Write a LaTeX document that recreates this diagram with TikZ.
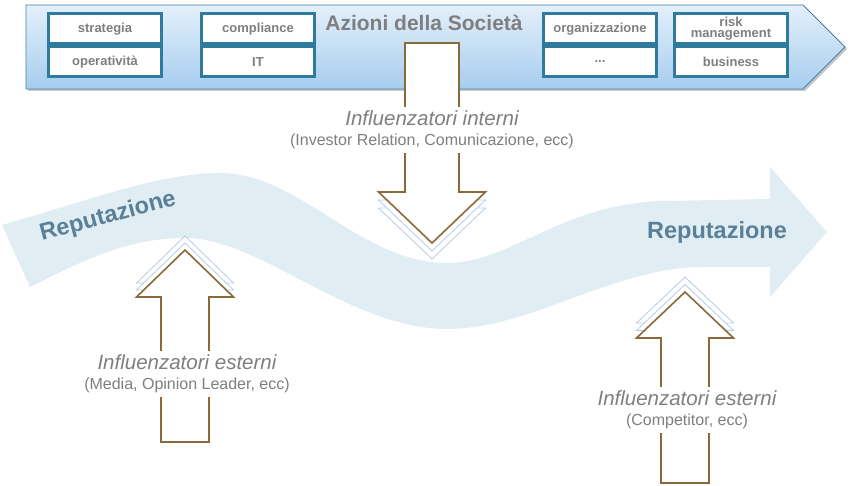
\documentclass[tikz,border=0pt]{standalone}
\usepackage{fontspec}
\setmainfont{Liberation Sans}
\usetikzlibrary{positioning}

\definecolor{boxblue}{HTML}{2F7B9D}
\definecolor{bannertop}{HTML}{E4F0FB}
\definecolor{bannerbot}{HTML}{A6CDEE}
\definecolor{bannerline}{HTML}{3F82A6}
\definecolor{txtgrey}{HTML}{7F7F7F}
\definecolor{arrbrown}{HTML}{8A6A3A}
\definecolor{ghostblue}{HTML}{B7CCE6}
\definecolor{bandblue}{HTML}{E0EEF4}
\definecolor{repblue}{HTML}{5A7F96}

% block arrow: centre x, shaft half width, head half width, foot y, head base y, tip y
\newcommand{\blockarrow}[6]{(#1-#2,#4) -- (#1-#2,#5) -- (#1-#3,#5) -- (#1,#6)
  -- (#1+#3,#5) -- (#1+#2,#5) -- (#1+#2,#4) -- cycle}

\begin{document}
\begin{tikzpicture} % coordinates are pixels of the slide, y going down
    [x=1pt, y=-1pt,
      box/.style={draw=boxblue, line width=3pt, fill=white, minimum width=113pt,
        minimum height=30pt, inner sep=0pt, align=center, text=txtgrey,
        font=\fontsize{13}{11}\selectfont\bfseries},
      ghost/.style={draw=ghostblue, line width=0.8pt, fill=white},
      fat/.style={draw=arrbrown, line width=1.6pt, fill=white},
      infl/.style={fill=white, inner sep=4pt, align=center, text=txtgrey,
        font=\fontsize{16}{20}\selectfont},
      rep/.style={text=repblue, font=\fontsize{23.5}{24}\selectfont\bfseries}]
    \useasboundingbox (0,0) rectangle (851,486);

    % the wavy reputation arrow
    \fill[bandblue] (2,225) .. controls (90,200) and (160,173) .. (220,173)
      .. controls (300,173) and (360,263) .. (447,263)
      .. controls (510,263) and (560,205) .. (660,201)
      -- (770,199) -- (770,167) -- (827,232) -- (770,297) -- (770,267) -- (700,267)
      .. controls (610,269) and (530,329) .. (447,329)
      .. controls (350,329) and (260,238) .. (185,238)
      .. controls (120,238) and (70,268) .. (30,287) -- cycle;

    % banner with the actions
    \fill[black!22] (28,7) -- (805,7) -- (847,49) -- (805,91) -- (28,91) -- cycle;
    \shadedraw[top color=bannertop, bottom color=bannerbot, draw=bannerline, line width=0.8pt]
      (26,5) -- (803,5) -- (845,47) -- (803,89) -- (26,89) -- cycle;
    \node[box] (strat) at (105,29) {strategia};
    \node[box, below=0pt of strat] (oper) {operatività};
    \node[box, right=37pt of strat] (compl) {compliance};
    \node[box, below=0pt of compl] (it) {IT};
    \node[box] (org) at (600,29) {organizzazione};
    \node[box, below=0pt of org] (dots) {...};
    \node[box, right=15pt of org] (risk) {risk\\management};
    \node[box, below=0pt of risk] (busi) {business};
    \node[text=txtgrey, font=\fontsize{21}{21}\selectfont\bfseries] (title) at (424,23) {Azioni della Società};

    % influencers, each with two ghost copies behind
    \foreach \d in {16,8}
      \draw[ghost, shift={(0,\d)}] \blockarrow{432}{27}{53.5}{43}{192}{243};
    \draw[fat] \blockarrow{432}{27}{53.5}{43}{192}{243};
    \foreach \d in {14,7}
      \draw[ghost, shift={(0,-\d)}] \blockarrow{185}{24}{48.5}{442}{297}{250};
    \draw[fat] \blockarrow{185}{24}{48.5}{442}{297}{250};
    \foreach \d in {15,7.5}
      \draw[ghost, shift={(0,-\d)}] \blockarrow{685}{24}{48.5}{483}{338}{292};
    \draw[fat] \blockarrow{685}{24}{48.5}{483}{338}{292};

    \node[infl] (intlab) at (432,130)
      {{\fontsize{20.5}{20}\selectfont\itshape Influenzatori interni}\\(Investor Relation, Comunicazione, ecc)};
    \node[infl] (extlab) at (187,374)
      {{\fontsize{20.5}{20}\selectfont\itshape Influenzatori esterni}\\(Media, Opinion Leader, ecc)};
    \node[infl] (complab) at (687,410)
      {{\fontsize{20.5}{20}\selectfont\itshape Influenzatori esterni}\\(Competitor, ecc)};

    \node[rep, rotate=15] (repleft) at (108,217) {Reputazione};
    \node[rep] (repright) at (717,232) {Reputazione};
\end{tikzpicture}
\end{document}
